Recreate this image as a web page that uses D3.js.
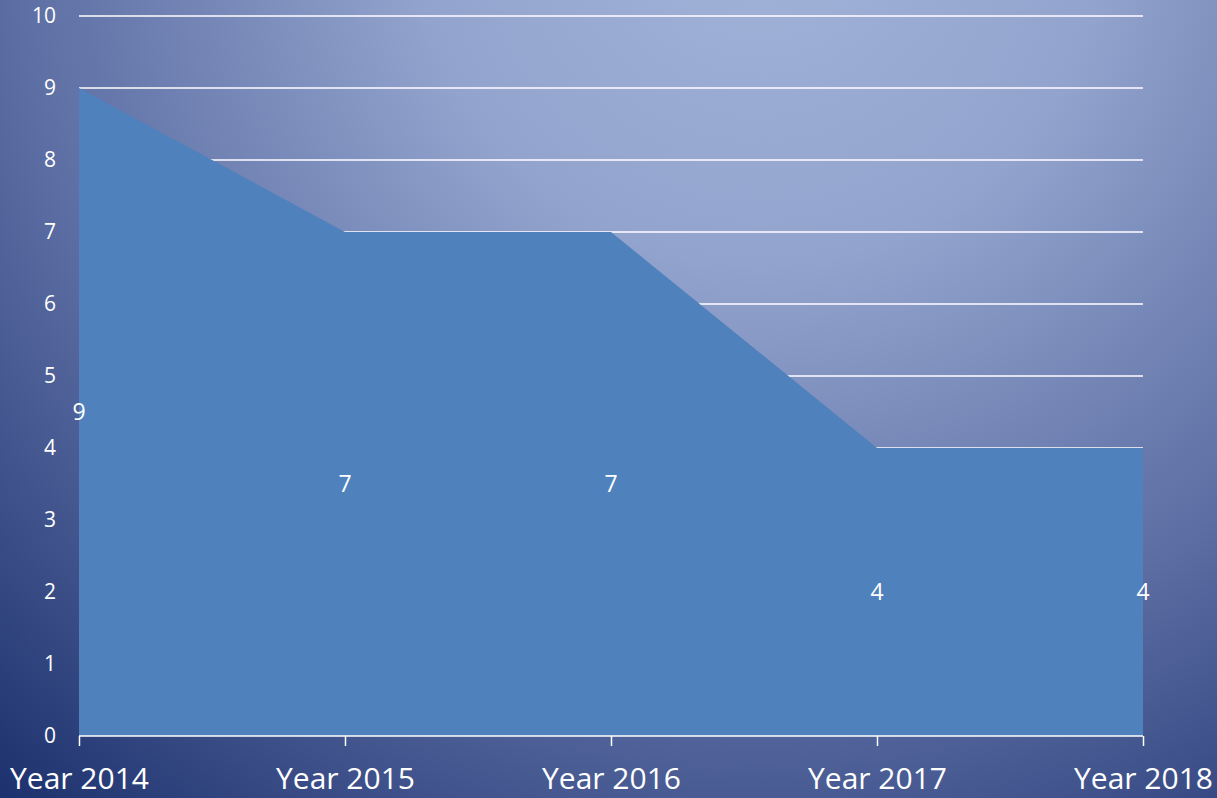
<!DOCTYPE html>
<html>
<head>
<meta charset="utf-8">
<script src="https://cdn.jsdelivr.net/npm/d3@7"></script>
<style>
html,body{margin:0;padding:0;overflow:hidden;}
svg{display:block;}
</style>
</head>
<body>
<svg id="chart" width="1217" height="798"></svg>
<script>
const categories = ["Year 2014", "Year 2015", "Year 2016", "Year 2017", "Year 2018"];
const values = [9, 7, 7, 4, 4];
const yTicks = [0, 1, 2, 3, 4, 5, 6, 7, 8, 9, 10];

const W = 1217, H = 798;
const margin = {left: 79, right: 74, top: 16, bottom: 62};
const svg = d3.select("#chart");
const defs = svg.append("defs");
const grad = defs.append("radialGradient")
  .attr("id", "bg").attr("gradientUnits", "userSpaceOnUse")
  .attr("cx", 760).attr("cy", -80).attr("r", 1150);
grad.append("stop").attr("offset", 0).attr("stop-color", "#a3b4da");
grad.append("stop").attr("offset", 0.3).attr("stop-color", "#92a3cd");
grad.append("stop").attr("offset", 0.65).attr("stop-color", "#5c6ea3");
grad.append("stop").attr("offset", 1).attr("stop-color", "#1e326f");
svg.append("rect").attr("width", W).attr("height", H).attr("fill", "url(#bg)");

const x = d3.scalePoint().domain(categories).range([margin.left, W - margin.right]);
const y = d3.scaleLinear().domain([0, 10]).range([H - margin.bottom, margin.top]);
const font = "'Open Sans', 'Liberation Sans', sans-serif";

// gridlines
svg.append("g").selectAll("line").data(yTicks.filter(d => d > 0)).join("line")
  .attr("x1", x(categories[0])).attr("x2", x(categories[categories.length - 1]))
  .attr("y1", d => y(d)).attr("y2", d => y(d))
  .attr("stroke", "#ffffff").attr("stroke-width", 1.5);

// area
const data = categories.map((c, i) => ({c, v: values[i]}));
const area = d3.area().x(d => x(d.c)).y0(y(0)).y1(d => y(d.v));
svg.append("path").datum(data).attr("d", area).attr("fill", "#4f81bd");

// y axis labels
const yAxis = d3.axisLeft(y).tickValues(yTicks).tickSize(0).tickPadding(23);
const gy = svg.append("g").attr("transform", `translate(${margin.left},0)`).call(yAxis);
gy.select(".domain").remove();
gy.selectAll("text").attr("fill", "#ffffff").style("font-family", font).style("font-size", "21px");

// x axis
const xAxis = d3.axisBottom(x).tickSize(10).tickPadding(22);
const gx = svg.append("g").attr("transform", `translate(0,${y(0)})`).call(xAxis);
gx.select(".domain").attr("stroke", "#ffffff").attr("stroke-width", 1.5).attr("d", `M${x(categories[0])},0H${x(categories[categories.length-1])}`);
gx.selectAll(".tick line").attr("stroke", "#ffffff").attr("stroke-width", 1.5);
gx.selectAll("text").attr("fill", "#ffffff").style("font-family", font).style("font-size", "30px");

// data labels
svg.append("g").selectAll("text").data(data).join("text")
  .attr("x", d => x(d.c)).attr("y", d => y(d.v / 2))
  .attr("dy", "0.35em").attr("text-anchor", "middle")
  .attr("fill", "#ffffff").style("font-family", font).style("font-size", "23px")
  .text(d => d.v);
</script>
</body>
</html>
